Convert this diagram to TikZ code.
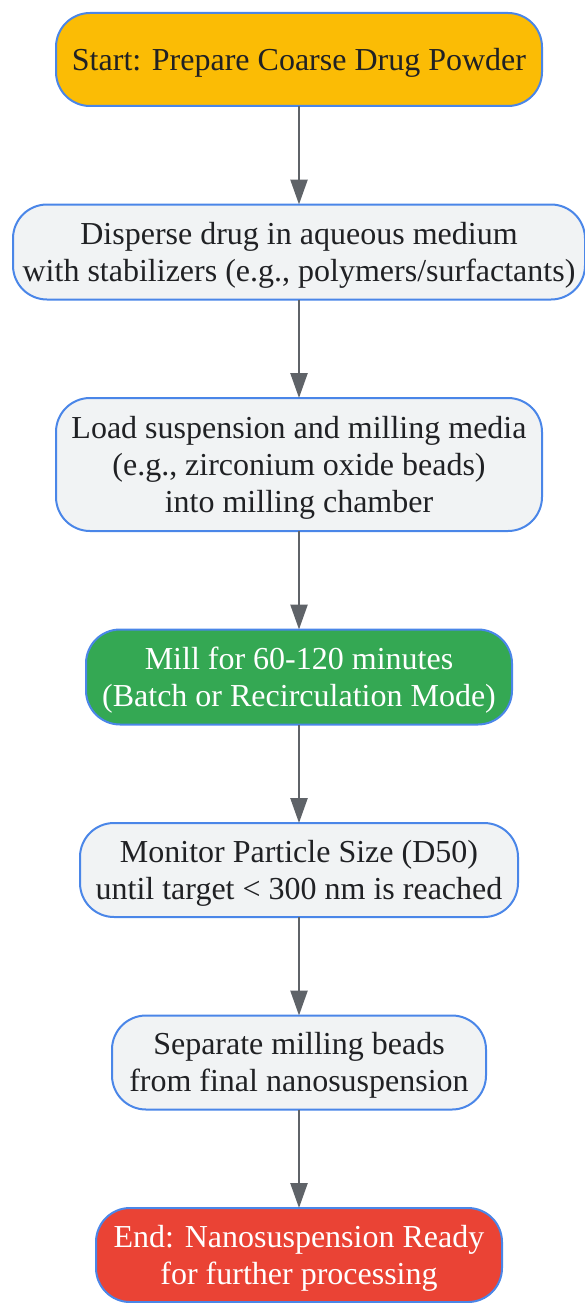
\documentclass[tikz,border=0pt]{standalone}
\usepackage{fontspec}
\setmainfont{Liberation Serif}
\usetikzlibrary{positioning,arrows.meta}

\definecolor{edgeblue}{HTML}{4A86E8}
\definecolor{startfill}{HTML}{FBBC05}
\definecolor{stepfill}{HTML}{F1F3F4}
\definecolor{millfill}{HTML}{34A853}
\definecolor{endfill}{HTML}{EA4335}
\definecolor{arrowgray}{HTML}{5F6368}
\definecolor{textdark}{HTML}{202124}

\newcommand{\ls}{\rule[-7.7pt]{0pt}{37pt}}

\begin{document}
\begin{tikzpicture}[x=1pt,y=1pt,>={Triangle[length=25pt,width=17pt]},
	node distance=98.5pt,
	box/.style={draw=edgeblue,line width=2pt,rounded corners=34pt,fill=stepfill,
		align=center,text=textdark,font=\fontsize{32}{37}\selectfont,
		execute at end node=\ls,
		minimum height=94pt,inner xsep=4pt,outer sep=0pt},
	flow/.style={->,draw=arrowgray,line width=2.5pt}]
	
	\useasboundingbox (0,0) rectangle (585,-1303);
	
	% steps, top to bottom
	\node[box,fill=startfill,minimum width=486pt,minimum height=93pt] (start) at (299,-59.5)
		{\ls Start: Prepare Coarse Drug Powder};
	\node[box,minimum width=572pt,minimum height=95pt,below=of start] (disperse)
		{\ls Disperse drug in aqueous medium\\with stabilizers (e.g., polymers/surfactants)};
	\node[box,minimum width=486pt,minimum height=133pt,below=of disperse] (load)
		{\ls Load suspension and milling media\\(e.g., zirconium oxide beads)\\into milling chamber};
	\node[box,fill=millfill,text=white,minimum width=426pt,minimum height=95pt,below=of load] (mill)
		{\ls Mill for 60-120 minutes\\(Batch or Recirculation Mode)};
	\node[box,minimum width=438pt,below=of mill] (monitor)
		{\ls Monitor Particle Size (D50)\\until target < 300 nm is reached};
	\node[box,minimum width=374pt,below=of monitor] (separate)
		{\ls Separate milling beads\\from final nanosuspension};
	\node[box,fill=endfill,text=white,minimum width=406pt,below=of separate] (finish)
		{\ls End: Nanosuspension Ready\\for further processing};
	
	% connectors
	\draw[flow] (start) -- (disperse);
	\draw[flow] (disperse) -- (load);
	\draw[flow] (load) -- (mill);
	\draw[flow] (mill) -- (monitor);
	\draw[flow] (monitor) -- (separate);
	\draw[flow] (separate) -- (finish);
	
\end{tikzpicture}
\end{document}
